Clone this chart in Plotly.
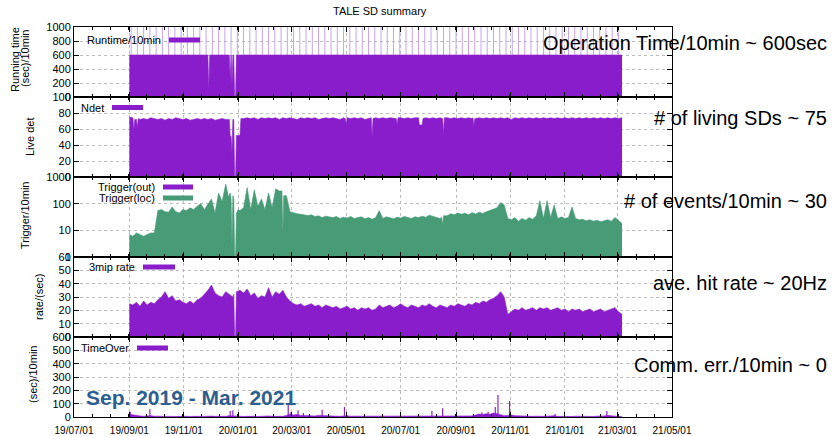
import pandas as pd
import plotly.graph_objects as go
from plotly.subplots import make_subplots

# ---------------- data ----------------
GRID_START = "2019-09-01"
GRID_END = "2021-03-06"
GRID_STEP = "4D"
grid_dates = pd.date_range(GRID_START, GRID_END, freq=GRID_STEP)  # 139 sample dates

runtime_dates = ["2019-09-01", "2019-11-28", "2019-11-29", "2019-11-30",
                 "2019-12-22", "2019-12-23", "2019-12-24", "2019-12-25",
                 "2019-12-26", "2019-12-27", "2019-12-28", "2019-12-29",
                 "2019-12-30", "2021-03-06"]
runtime_values = [600, 600, 100, 600, 600, 240, 600, 170, 600, 600, 0, 0, 600, 600]

runtime_spike_dates = [
    "2019-09-03", "2019-09-10", "2019-09-17", "2019-09-24", "2019-10-01", "2019-10-08",
    "2019-10-15", "2019-10-22", "2019-10-29", "2019-11-05", "2019-11-12", "2019-11-19",
    "2019-11-26", "2019-12-03", "2019-12-10", "2019-12-17", "2019-12-24", "2019-12-31",
    "2020-01-07", "2020-01-14", "2020-01-21", "2020-01-28", "2020-02-04", "2020-02-11",
    "2020-02-18", "2020-02-25", "2020-03-03", "2020-03-10", "2020-03-17", "2020-03-24",
    "2020-03-31", "2020-04-07", "2020-04-14", "2020-04-21", "2020-04-28", "2020-05-05",
    "2020-05-12", "2020-05-19", "2020-05-26", "2020-06-02", "2020-06-09", "2020-06-16",
    "2020-06-23", "2020-06-30", "2020-07-07", "2020-07-14", "2020-07-21", "2020-07-28",
    "2020-08-04", "2020-08-11", "2020-08-18", "2020-08-25", "2020-09-01", "2020-09-08",
    "2020-09-15", "2020-09-22", "2020-09-29", "2020-10-06", "2020-10-13", "2020-10-20",
    "2020-10-27", "2020-11-03", "2020-11-10", "2020-11-17", "2020-11-24", "2020-12-01",
    "2020-12-08", "2020-12-15", "2020-12-22", "2020-12-29", "2021-01-05", "2021-01-12",
    "2021-01-19", "2021-01-26", "2021-02-02", "2021-02-09", "2021-02-16", "2021-02-23",
    "2021-03-02"]
runtime_spike_top = 1000

ndet = [
    75, 73, 72, 72, 73, 72, 74, 73, 72, 73,
    71, 73, 72, 74, 73, 72, 73, 71, 72, 73,
    72, 73, 72, 73, 71, 72, 73, 72, 72, 73,
    73, 73, 73, 74, 73, 74, 72, 74, 73, 74,
    73, 74, 72, 74, 73, 74, 73, 72, 74, 73,
    74, 73, 74, 72, 73, 74, 73, 74, 73, 72,
    74, 73, 73, 74, 73, 74, 72, 73, 74, 74,
    73, 74, 73, 74, 73, 73, 74, 73, 74, 73,
    74, 73, 73, 74, 73, 74, 73, 74, 74, 74,
    73, 74, 73, 74, 73, 74, 73, 73, 74, 73,
    74, 73, 74, 73, 74, 73, 74, 72, 74, 73,
    74, 73, 74, 73, 74, 73, 74, 73, 74, 73,
    74, 73, 74, 73, 74, 73, 74, 73, 74, 73,
    74, 73, 74, 73, 74, 73, 74, 73, 74]
# short drops in the number of live detectors (dates, values)
ndet_dips = [
    (["2019-09-05", "2019-09-06", "2019-09-07", "2019-09-09", "2019-09-10", "2019-09-11"],
     [74, 58, 72, 72, 62, 73]),
    (["2019-12-22", "2019-12-23", "2019-12-24", "2019-12-25", "2019-12-26", "2019-12-27",
      "2019-12-28", "2019-12-29", "2019-12-30", "2020-01-03", "2020-01-04"],
     [72, 51, 51, 30, 72, 72, 0, 0, 52, 52, 73]),
    (["2020-04-30", "2020-05-01", "2020-05-02"], [73, 65, 74]),
    (["2020-05-29", "2020-05-30", "2020-05-31"], [74, 51, 73]),
    (["2020-06-26", "2020-06-27", "2020-06-28"], [73, 66, 74]),
    (["2020-07-21", "2020-07-22", "2020-07-25", "2020-07-26"], [74, 65, 65, 73]),
    (["2020-08-17", "2020-08-18", "2020-08-19"], [73, 55, 74]),
    (["2020-09-20", "2020-09-21", "2020-09-22"], [74, 64, 73]),
]

trigger_loc = [
    7, 6, 8, 7, 6, 7, 8, 8, 55, 60,
    50, 48, 75, 50, 45, 60, 55, 70, 60, 80,
    100, 60, 90, 150, 45, 250, 120, 550, 180, 150,
    60, 55, 70, 400, 60, 330, 80, 150, 60, 250,
    70, 360, 300, 100, 200, 50, 45, 42, 40, 38,
    36, 38, 33, 35, 30, 34, 31, 30, 33, 28,
    31, 29, 33, 28, 30, 32, 27, 30, 26, 30,
    55, 28, 32, 30, 27, 31, 29, 33, 30, 28,
    32, 30, 34, 31, 37, 33, 30, 28, 30, 35,
    42, 38, 45, 40, 44, 38, 46, 41, 48, 43,
    50, 55, 60, 70, 110, 90, 28, 25, 30, 22,
    28, 24, 30, 26, 35, 130, 28, 130, 30, 90,
    27, 32, 28, 30, 75, 28, 25, 26, 23, 25,
    22, 24, 21, 23, 25, 22, 30, 24, 18]
trigger_dips = [
    (["2019-12-21", "2019-12-23", "2019-12-24", "2019-12-25", "2019-12-26", "2019-12-27",
      "2019-12-28", "2019-12-29", "2019-12-30", "2020-01-01"],
     [180, 250, 150, 3, 200, 150, 1, 1, 45, 60]),
    (["2020-02-19", "2020-02-20", "2020-02-21"], [300, 7, 200]),
    (["2020-08-16", "2020-08-17", "2020-08-18"], [30, 15, 35]),
]

rate_3mip = [
    25, 24, 26, 23, 27, 24, 26, 25, 28, 30,
    34, 29, 31, 27, 28, 26, 25, 27, 25, 28,
    29, 32, 35, 39, 33, 31, 30, 34, 32, 30,
    34, 35, 33, 36, 31, 33, 29, 31, 30, 37,
    30, 34, 32, 35, 30, 27, 25, 24, 25, 23,
    24, 25, 23, 24, 22, 24, 23, 22, 23, 21,
    22, 23, 21, 22, 20, 22, 21, 22, 20, 21,
    24, 22, 23, 24, 22, 23, 25, 23, 22, 24,
    23, 22, 24, 23, 25, 23, 22, 24, 23, 22,
    24, 23, 25, 24, 23, 25, 24, 26, 25, 27,
    26, 28, 29, 31, 34, 30, 17, 19, 21, 20,
    22, 20, 21, 22, 20, 22, 21, 22, 20, 21,
    22, 20, 21, 19, 21, 20, 21, 19, 20, 21,
    19, 20, 21, 19, 20, 21, 22, 19, 17]
rate_dips = [
    (["2019-12-27", "2019-12-28", "2019-12-29", "2019-12-30"], [32, 0, 0, 34]),
]

timeover_base = [
    20, 15, 10, 8, 6, 8, 10, 6, 5, 5,
    6, 5, 6, 4, 5, 7, 5, 4, 6, 5,
    4, 6, 5, 7, 5, 4, 6, 5, 10, 8,
    5, 6, 4, 5, 7, 5, 4, 6, 5, 8,
    5, 4, 6, 5, 12, 20, 15, 18, 12, 10,
    12, 10, 8, 12, 10, 8, 6, 5, 7, 5,
    8, 10, 6, 6, 5, 7, 5, 4, 6, 5,
    4, 6, 5, 7, 5, 4, 6, 5, 4, 6,
    5, 4, 6, 5, 7, 8, 6, 8, 8, 5,
    4, 6, 5, 7, 5, 6, 8, 15, 22, 18,
    25, 20, 30, 25, 15, 10, 12, 15, 10, 8,
    6, 5, 7, 5, 6, 4, 5, 6, 8, 10,
    5, 4, 6, 5, 4, 6, 5, 4, 6, 5,
    4, 6, 5, 8, 12, 8, 5, 4, 3]
timeover_spike_dates = ["2019-09-02", "2019-09-24", "2019-12-23", "2019-12-26", "2020-02-26",
                        "2020-02-29", "2020-03-08", "2020-03-14", "2020-04-04", "2020-04-29",
                        "2020-08-05", "2020-08-17", "2020-09-30", "2020-10-07", "2020-10-15",
                        "2020-10-18", "2020-10-31", "2020-12-21", "2021-02-17"]
timeover_spike_values = [40, 60, 45, 50, 90, 35, 50, 30, 55, 75,
                         45, 65, 35, 40, 75, 165, 120, 25, 45]

y_titles = ["Running time", "(sec)/10min", "Live det", "Trigger/10min", "rate/(sec)", "(sec)/10min"]
legend_labels = ["Runtime/10min", "Ndet", "Trigger(out)", "Trigger(loc)", "3mip rate", "TimeOver"]
side_notes = ["Operation Time/10min ~ 600sec", "# of living SDs ~ 75",
              "# of events/10min ~ 30", "ave. hit rate ~ 20Hz", "Comm. err./10min ~ 0"]
period_label = "Sep. 2019 - Mar. 2021"
chart_title = "TALE SD summary"

# ---------------- style ----------------
PURPLE = "#8a1dcb"
GREEN = "#479b77"
SPIKE = "#c7a2f2"
BLUE = "#2d5e90"
FONT = "Liberation Sans, Arial, Helvetica, sans-serif"
W, H = 833, 436
L, R, T, B = 74, 672, 27, 417     # plot area in window pixels
DAY_MS = 86400000


def px(x):
    return (x - L) / (R - L)


def py(y):
    return (B - y) / (B - T)


def merge(dates, values, blocks):
    pts = list(zip(pd.to_datetime(dates), values))
    for bd, bv in blocks:
        bd = pd.to_datetime(bd)
        lo, hi = bd[0], bd[-1]
        pts = [p for p in pts if not (lo <= p[0] <= hi)]
        pts += list(zip(bd, bv))
    pts.sort(key=lambda p: p[0])
    return [p[0] for p in pts], [p[1] for p in pts]


fig = make_subplots(rows=5, cols=1, shared_xaxes=True, vertical_spacing=0,
                    row_heights=[70, 80, 80, 80, 80])

sx, sy = [], []
for d in runtime_spike_dates:
    sx += [d, d, None]
    sy += [0, runtime_spike_top, None]
fig.add_trace(go.Scatter(x=sx, y=sy, mode="lines", line=dict(color=SPIKE, width=1),
                         hoverinfo="skip"), row=1, col=1)


def area(x, y, color, row):
    fig.add_trace(go.Scatter(x=x, y=y, mode="lines", fill="tozeroy",
                             line=dict(color=color, width=0.6), fillcolor=color,
                             hoverinfo="skip"), row=row, col=1)


area(runtime_dates, runtime_values, PURPLE, 1)
area(*merge(grid_dates, ndet, ndet_dips), PURPLE, 2)
area(*merge(grid_dates, trigger_loc, trigger_dips), GREEN, 3)
area(*merge(grid_dates, rate_3mip, rate_dips), PURPLE, 4)
area(grid_dates, timeover_base, PURPLE, 5)
fig.add_trace(go.Bar(x=timeover_spike_dates, y=timeover_spike_values, width=1.3 * DAY_MS,
                     marker=dict(color=PURPLE, line=dict(width=0)), hoverinfo="skip"),
              row=5, col=1)

for r in range(1, 6):
    fig.update_xaxes(row=r, col=1, type="date", range=["2019-07-01", "2021-05-01"],
                     tick0="2019-07-01", dtick="M2", tickformat="%y/%m/%d",
                     ticks="inside", ticklen=5, tickcolor="black",
                     showline=True, linecolor="black", linewidth=1, mirror="allticks",
                     showgrid=True, gridcolor="#bdbdbd", griddash="dot", gridwidth=1,
                     zeroline=False, showticklabels=(r == 5), automargin=False,
                     ticklabelstandoff=4,
                     tickfont=dict(family=FONT, size=10, color="black"),
                     minor=dict(ticks="inside", ticklen=3, tickcolor="black",
                                tick0="2019-07-01", dtick=int(61 * DAY_MS / 3),
                                showgrid=False))

yspecs = [dict(range=[0, 1000], dtick=200), dict(range=[0, 100], dtick=20),
          dict(type="log", range=[0, 3], dtick=1), dict(range=[0, 60], dtick=10),
          dict(range=[0, 600], dtick=100)]
for r, spec in enumerate(yspecs, start=1):
    fig.update_yaxes(row=r, col=1, ticks="inside", ticklen=5, tickcolor="black",
                     showline=True, linecolor="black", linewidth=1, mirror="allticks",
                     showgrid=True, gridcolor="#bdbdbd", griddash="dot", gridwidth=1,
                     zeroline=False, automargin=False,
                     tickfont=dict(family=FONT, size=11, color="black"), **spec)

ann = []
shapes = []
ann.append(dict(text=chart_title, x=px(380), y=py(11), font=dict(size=11)))
ytitle_pos = [(15, 60), (25, 59), (30, 136), (25, 216), (39, 297), (33, 375)]
for t, (x, y) in zip(y_titles, ytitle_pos):
    ann.append(dict(text=t, x=px(x), y=py(y), textangle=-90, font=dict(size=11)))
leg = [(163, 40, 169, 200, PURPLE), (106, 107.5, 112, 143, PURPLE),
       (157, 187, 163, 193, PURPLE), (157, 198, 163, 193, GREEN),
       (137, 267, 143, 175, PURPLE), (131, 348, 137, 168, PURPLE)]
for t, (tx, ty, x0, x1, c) in zip(legend_labels, leg):
    ann.append(dict(text=t, x=px(tx), y=py(ty), xanchor="right", font=dict(size=11)))
    shapes.append(dict(type="rect", xref="paper", yref="paper", x0=px(x0), x1=px(x1),
                       y0=py(ty + 2.5), y1=py(ty - 2.5), fillcolor=c, line=dict(width=0),
                       layer="above"))
for t, y in zip(side_notes, [43, 118, 201, 283, 365]):
    ann.append(dict(text=t, x=px(829), y=py(y), xanchor="right", font=dict(size=20)))
ann.append(dict(text="<b>" + period_label + "</b>", x=px(84), y=py(397), xanchor="left",
                font=dict(size=21, color=BLUE)))

for a in ann:
    a.setdefault("xref", "paper")
    a.setdefault("yref", "paper")
    a.setdefault("showarrow", False)
    a.setdefault("yanchor", "middle")
    a.setdefault("xanchor", "center")
    f = a["font"]
    f.setdefault("family", FONT)
    f.setdefault("color", "black")

fig.update_layout(width=W, height=H,
                  margin=dict(l=L, r=W - R, t=T, b=H - B),
                  plot_bgcolor="white", paper_bgcolor="white", showlegend=False,
                  hovermode=False, barmode="overlay", annotations=ann, shapes=shapes)

# remove the page's default 8px body margin so the figure sits at the window origin
fig.write_html("out.html",
               config={"displayModeBar": False, "staticPlot": True},
               post_script="document.body.style.margin='0';"
                           "document.body.style.overflow='hidden';")
